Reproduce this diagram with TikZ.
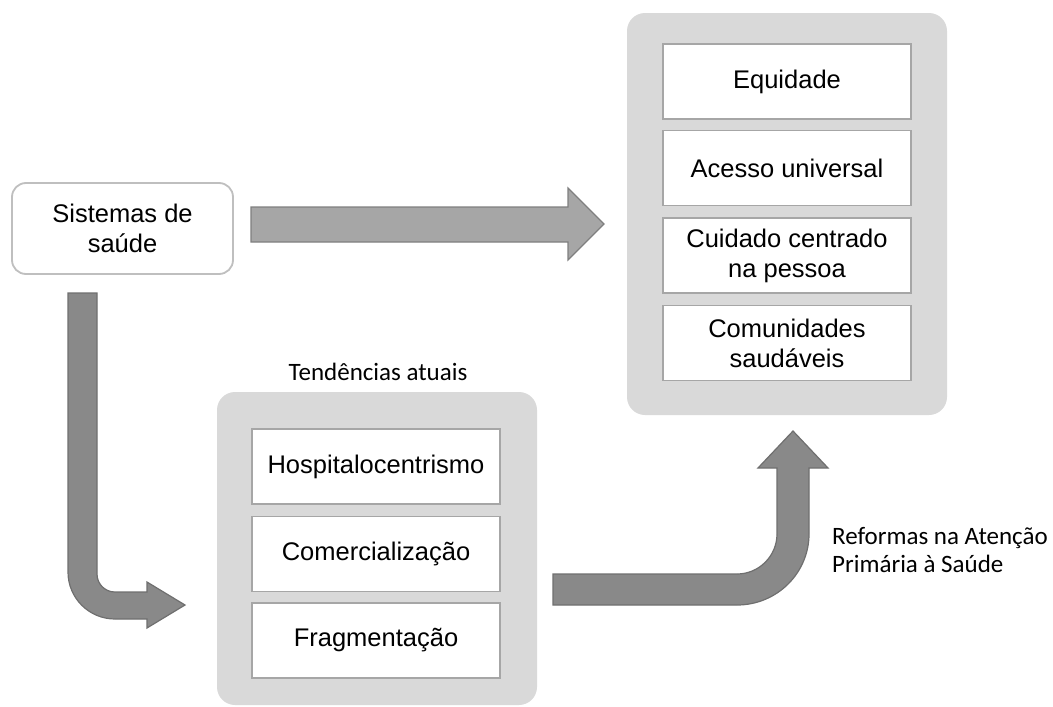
\documentclass[tikz,border=0pt]{standalone}
\usepackage{fontspec}
\setmainfont{Liberation Sans}
\newfontfamily\rotulofont{Carlito}
\definecolor{cPainel}{HTML}{D9D9D9}
\definecolor{cBorda}{HTML}{A6A6A6}
\definecolor{cBordaSis}{HTML}{BFBFBF}
\definecolor{cSeta}{HTML}{898989}
\definecolor{cSetaBorda}{HTML}{6F6F6F}
\definecolor{cSetaClara}{HTML}{A6A6A6}
\definecolor{cSetaClaraBorda}{HTML}{7F7F7F}

\begin{document}
\begin{tikzpicture}[
    x=1pt, y=-1pt, font=\fontsize{25.5}{30}\selectfont,
    painel/.style={fill=cPainel, draw=none, rounded corners=18pt,
                   inner sep=0pt},
    caixa/.style={draw=cBorda, line width=1.8pt, fill=white, inner sep=0pt,
                  minimum width=248pt, minimum height=75pt, align=center},
    sis/.style={draw=cBordaSis, line width=1.8pt, fill=white,
                rounded corners=14pt, minimum width=221pt,
                minimum height=91pt, align=center},
    seta/.style={fill=cSeta, draw=cSetaBorda, line width=1.2pt},
    setaclara/.style={fill=cSetaClara, draw=cSetaClaraBorda, line width=1.2pt},
    rotulo/.style={font=\rotulofont\fontsize{25}{28}\selectfont,
                   inner sep=0pt},
]
\useasboundingbox (0,0) rectangle (1053,707);

% ===========================================================================
% Ponto de partida
% ===========================================================================
\node[sis] (sistemas) at (122.5,228.5) {Sistemas de\\saúde};

% ===========================================================================
% Metas (painel da direita)
% ===========================================================================
\node[painel, minimum width=320pt, minimum height=402pt] (metas) at (787,214) {};

\node[caixa] (equidade)   at (787,81.5)  {Equidade};
\node[caixa] (acesso)     at (787,168)   {Acesso universal};
\node[caixa] (cuidado)    at (787,255.5) {Cuidado centrado\\na pessoa};
\node[caixa] (comunidade) at (787,343)   {Comunidades\\saudáveis};

% ===========================================================================
% Tendências atuais (painel de baixo)
% ===========================================================================
\node[painel, minimum width=320pt, minimum height=313pt] (tendencias) at (377,548.5) {};
\node[rotulo, anchor=base] (tendlbl) at (378,380) {Tendências atuais};

\node[caixa] (hospital)  at (376,466.5) {Hospitalocentrismo};
\node[caixa] (comercial) at (376,554)   {Comercialização};
\node[caixa] (fragment)  at (376,640.5) {Fragmentação};

% ----- seta reta: sistemas -> metas -----
\draw[setaclara] (251,207) -- (568,207) -- (568,188) -- (604,224)
      -- (568,260) -- (568,242) -- (251,242) -- cycle;

% ----- seta dobrada: sistemas -> tendências -----
\draw[seta] (68,293) -- (97,293) -- (97,574)
      .. controls (97,584) and (105,592) .. (115,592)
      -- (147,592) -- (147,582) -- (185,605) -- (147,628) -- (147,619)
      -- (115,619) .. controls (89,619) and (68,598) .. (68,572) -- cycle;

% ----- seta dobrada: tendências -> metas -----
\draw[seta] (553,574) -- (737,574)
      .. controls (759,574) and (777,556) .. (777,534)
      -- (777,468) -- (758,468) -- (793,431) -- (828,468) -- (809,468)
      -- (809,534) .. controls (809,573) and (777,605) .. (737,605)
      -- (553,605) -- cycle;
\node[rotulo, anchor=west, align=left] (reformas) at (832,550)
      {Reformas na Atenção\\Primária à Saúde};

\end{tikzpicture}
\end{document}
